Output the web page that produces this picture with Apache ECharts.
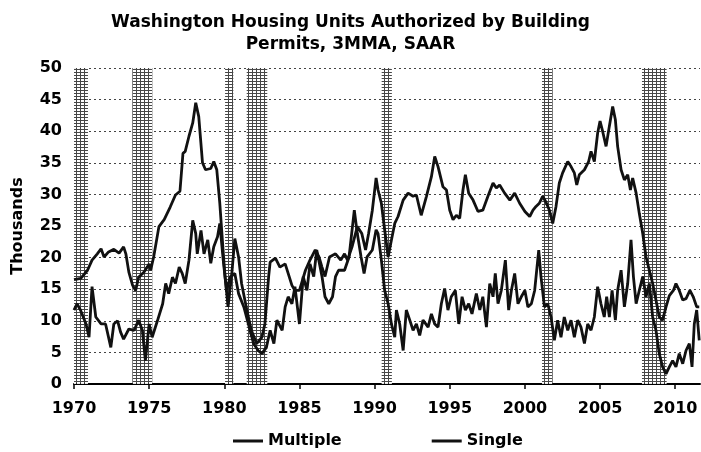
<!DOCTYPE html>
<html>
<head>
<meta charset="utf-8">
<script src="https://cdn.jsdelivr.net/npm/echarts@6/dist/echarts.min.js"></script>
<style>
  html, body { margin: 0; padding: 0; background: #fff; }
  #chart { width: 701px; height: 452px; }
</style>
</head>
<body>
<div id="chart"></div>
<script>
// values: [year, thousands of units]
var singleData = [
  [1970.0,16.5],[1970.45,16.7],[1970.9,18],[1971.2,19.6],[1971.55,20.6],[1971.8,21.4],[1972.0,20.1],
  [1972.3,20.9],[1972.65,21.3],[1973.0,20.7],[1973.3,21.7],[1973.45,20.6],[1973.65,17.7],[1973.9,15.6],
  [1974.1,14.8],[1974.3,16.9],[1974.65,17.7],[1975.0,19],[1975.1,18],[1975.3,20.1],[1975.65,24.9],
  [1976.0,26],[1976.4,28],[1976.75,29.9],[1977.05,30.5],[1977.25,36.5],[1977.4,36.8],[1977.65,39.2],
  [1977.9,41.3],[1978.1,44.5],[1978.3,42.3],[1978.55,35],[1978.75,33.9],[1979.1,34.1],[1979.3,35.2],
  [1979.5,33.9],[1979.7,28.6],[1979.95,20.1],[1980.05,17],[1980.25,12.2],[1980.5,17.5],[1980.7,23],
  [1980.95,20.1],[1981.15,15.9],[1981.5,11.7],[1981.8,8.5],[1982.15,6.4],[1982.5,7.4],[1982.7,9.5],
  [1982.95,17],[1983.05,19.3],[1983.4,19.9],[1983.7,18.5],[1984.05,19],[1984.25,17.5],[1984.5,15.6],
  [1984.7,14.8],[1985.0,14.8],[1985.4,18],[1985.7,19.6],[1986.05,21.2],[1986.3,20.1],[1986.5,18.5],
  [1986.7,17],[1987.0,20.1],[1987.4,20.6],[1987.75,19.6],[1988.0,20.6],[1988.2,19.6],[1988.5,21.7],
  [1988.85,24.9],[1989.15,23.8],[1989.4,21.2],[1989.6,23.8],[1989.85,27.5],[1990.1,32.6],[1990.23,30.7],
  [1990.45,28.6],[1990.67,24.4],[1990.9,20.1],[1991.12,22.8],[1991.34,25.4],[1991.56,26.5],[1991.9,29.1],
  [1992.23,30.2],[1992.56,29.7],[1992.78,29.9],[1993.1,26.7],[1993.45,29.7],[1993.78,32.8],[1994.0,36],
  [1994.22,34.4],[1994.55,31.2],[1994.78,30.7],[1995.0,27.5],[1995.22,26],[1995.44,26.7],[1995.66,26.2],
  [1995.88,30.7],[1996.04,33.1],[1996.26,30.2],[1996.55,29.1],[1996.88,27.3],[1997.2,27.5],[1997.54,29.7],
  [1997.88,31.8],[1998.1,31],[1998.32,31.5],[1998.65,30.2],[1999.0,29.1],[1999.32,30.2],[1999.65,28.6],
  [2000.0,27.3],[2000.32,26.5],[2000.54,27.5],[2000.74,28.1],[2000.96,28.6],[2001.18,29.7],[2001.4,28.8],
  [2001.63,27.5],[2001.85,25.4],[2002.07,28.1],[2002.29,31.8],[2002.51,33.4],[2002.85,35.2],[2003.07,34.4],
  [2003.29,33.4],[2003.45,31.5],[2003.62,33.1],[2003.96,33.9],[2004.24,35.2],[2004.4,36.8],[2004.62,35.2],
  [2004.84,39.7],[2005.0,41.6],[2005.17,40],[2005.4,37.6],[2005.62,40.8],[2005.84,43.9],[2006.02,41.8],
  [2006.17,37.6],[2006.4,33.9],[2006.62,32.3],[2006.84,33.1],[2007.02,30.7],[2007.17,32.6],[2007.4,30.2],
  [2007.61,27],[2007.84,23.8],[2008.06,20.1],[2008.28,18],[2008.5,15.9],[2008.72,13.3],[2008.94,10.6],
  [2009.16,10.1],[2009.39,12.2],[2009.61,14],[2009.88,14.8],[2010.05,15.9],[2010.27,14.8],[2010.5,13.3],
  [2010.72,13.5],[2010.98,14.8],[2011.2,13.8],[2011.43,12.2],[2011.6,12.2]
];

var multipleData = [
  [1970.0,11.7],[1970.2,12.7],[1970.45,11.6],[1970.8,9.5],[1971.0,7.4],[1971.2,15.4],[1971.45,10.6],
  [1971.8,9.5],[1972.1,9.5],[1972.45,5.8],[1972.65,9.5],[1972.9,10],[1973.1,8.2],[1973.3,7.1],
  [1973.65,8.7],[1974.0,8.5],[1974.3,10.1],[1974.55,8.5],[1974.75,3.7],[1975.0,9.5],[1975.2,7.4],
  [1975.55,10],[1975.9,12.7],[1976.1,15.9],[1976.3,14.3],[1976.55,16.9],[1976.75,15.9],[1977.0,18.5],
  [1977.2,17.5],[1977.4,15.9],[1977.65,19.6],[1977.9,25.9],[1978.1,23.8],[1978.2,20.6],[1978.45,24.3],
  [1978.65,20.6],[1978.9,22.8],[1979.1,19.1],[1979.3,21.7],[1979.55,23.3],[1979.7,25.4],[1979.95,19.1],
  [1980.15,14.8],[1980.4,17],[1980.7,17.5],[1980.95,14.3],[1981.3,12.2],[1981.6,9.5],[1981.95,6.4],
  [1982.25,5.3],[1982.5,4.8],[1982.8,5.8],[1983.05,8.5],[1983.3,6.4],[1983.5,10.1],[1983.85,8.5],
  [1984.05,12.2],[1984.25,13.8],[1984.5,12.7],[1984.7,15.4],[1985.0,9.5],[1985.25,17],[1985.5,14.8],
  [1985.7,19],[1985.95,17],[1986.15,21.2],[1986.5,17],[1986.7,13.8],[1986.95,12.7],[1987.2,13.8],
  [1987.4,17],[1987.6,18],[1988.0,18],[1988.3,20.1],[1988.65,27.5],[1988.85,23.8],[1989.1,20.1],
  [1989.3,17.5],[1989.5,20.1],[1989.85,21.2],[1990.1,24.4],[1990.23,23.8],[1990.45,19.6],[1990.67,14.8],
  [1990.9,12.7],[1991.12,9.5],[1991.34,7.4],[1991.45,11.7],[1991.67,9.5],[1991.9,5.3],[1992.11,11.7],
  [1992.34,10.1],[1992.56,8.5],[1992.78,9.5],[1993.0,7.7],[1993.22,10.1],[1993.56,9],[1993.78,11.1],
  [1994.0,9.5],[1994.22,9],[1994.44,12.7],[1994.66,15.1],[1994.88,11.7],[1995.1,13.8],[1995.37,14.8],
  [1995.6,9.5],[1995.82,13.8],[1996.04,11.7],[1996.26,12.7],[1996.48,11.1],[1996.77,14.3],[1997.0,11.7],
  [1997.2,13.8],[1997.44,9],[1997.66,15.9],[1997.88,13.8],[1998.03,17.5],[1998.21,12.7],[1998.43,14.8],
  [1998.7,19.6],[1998.92,11.7],[1999.1,14.8],[1999.32,17.5],[1999.54,12.7],[1999.76,13.8],[2000.0,14.8],
  [2000.2,12.2],[2000.43,12.7],[2000.65,14.8],[2000.92,21.2],[2001.07,17],[2001.3,12.2],[2001.52,12.7],
  [2001.74,10.6],[2001.96,6.9],[2002.18,10.1],[2002.4,7.4],[2002.62,10.6],[2002.85,8.5],[2003.07,10.1],
  [2003.29,7.4],[2003.51,10.1],[2003.73,9],[2003.96,6.4],[2004.18,9.5],[2004.4,8.5],[2004.62,10.6],
  [2004.84,15.4],[2005.06,12.7],[2005.28,10.6],[2005.44,13.8],[2005.62,10.6],[2005.8,14.8],[2006.02,10.1],
  [2006.17,14.8],[2006.4,18],[2006.62,12.2],[2006.84,15.9],[2007.06,22.8],[2007.22,17],[2007.4,12.7],
  [2007.61,14.8],[2007.84,17],[2008.06,13.8],[2008.28,15.9],[2008.5,10.6],[2008.72,8.5],[2008.94,4.8],
  [2009.16,2.7],[2009.39,1.6],[2009.61,2.7],[2009.83,3.7],[2010.05,2.7],[2010.27,4.8],[2010.5,3.2],
  [2010.72,5.3],[2010.94,6.4],[2011.12,2.7],[2011.27,9.5],[2011.43,11.7],[2011.6,6.9]
];

// recession periods (shaded bands)
var recessions = [
  [1970.0, 1970.93], [1973.88, 1975.21], [1980.05, 1980.6], [1981.49, 1982.86],
  [1990.47, 1991.15], [2001.14, 2001.85], [2007.79, 2009.43]
];

var yTicks = [0, 5, 10, 15, 20, 25, 30, 35, 40, 45, 50];

// hatch pattern like the scanned bands
var pat = document.createElement('canvas');
pat.width = 4; pat.height = 3;
var pctx = pat.getContext('2d');
pctx.fillStyle = '#fff';
pctx.fillRect(0, 0, 4, 3);
pctx.fillStyle = '#333';
pctx.fillRect(0, 0, 4, 1);
pctx.fillRect(0, 0, 1, 3);

var font = 'DejaVu Sans';

var chart = echarts.init(document.getElementById('chart'));
chart.setOption({
  animation: false,
  title: {
    text: 'Washington Housing Units Authorized by Building\nPermits, 3MMA, SAAR',
    left: 'center',
    top: 7,
    textStyle: { fontFamily: font, fontSize: 17, fontWeight: 'bold', color: '#000', lineHeight: 22 }
  },
  legend: {
    data: ['Multiple', 'Single'],
    left: 228,
    top: 428,
    icon: 'rect',
    itemWidth: 30,
    itemHeight: 3,
    itemGap: 90,
    textStyle: { fontFamily: font, fontSize: 16, fontWeight: 'bold', color: '#000' }
  },
  grid: { left: 74, right: 1, top: 68, bottom: 68 },
  xAxis: {
    type: 'value',
    min: 1970,
    max: 2011.65,
    interval: 5,
    axisLine: { lineStyle: { color: '#000', width: 2 } },
    axisTick: { length: 5, lineStyle: { color: '#000', width: 1.5 } },
    axisLabel: {
      showMaxLabel: false,
      margin: 17,
      fontFamily: font, fontSize: 16, fontWeight: 'bold', color: '#000',
      formatter: function (v) { return v % 5 === 0 ? String(v) : ''; }
    },
    splitLine: { show: false }
  },
  yAxis: {
    type: 'value',
    min: yTicks[0],
    max: yTicks[yTicks.length - 1],
    interval: 5,
    name: 'Thousands',
    nameLocation: 'middle',
    nameGap: 48,
    nameTextStyle: { fontFamily: font, fontSize: 16, fontWeight: 'bold', color: '#000' },
    axisLine: { show: false },
    axisTick: { show: false },
    axisLabel: { margin: 12, fontFamily: font, fontSize: 16, fontWeight: 'bold', color: '#000' },
    splitLine: { lineStyle: { color: '#444', width: 1, type: [2, 3] } }
  },
  series: [
    {
      name: 'Multiple',
      type: 'line',
      data: multipleData,
      showSymbol: false,
      symbol: 'none',
      lineStyle: { color: '#111', width: 2.8 },
      itemStyle: { color: '#111' },
      z: 3,
      markArea: {
        silent: true,
        itemStyle: { color: { image: pat, repeat: 'repeat' }, opacity: 0.9 },
        data: recessions.map(function (r) { return [{ xAxis: r[0] }, { xAxis: r[1] }]; })
      }
    },
    {
      name: 'Single',
      type: 'line',
      data: singleData,
      showSymbol: false,
      symbol: 'none',
      lineStyle: { color: '#111', width: 2.8 },
      itemStyle: { color: '#111' },
      z: 3
    }
  ]
});
</script>
</body>
</html>
